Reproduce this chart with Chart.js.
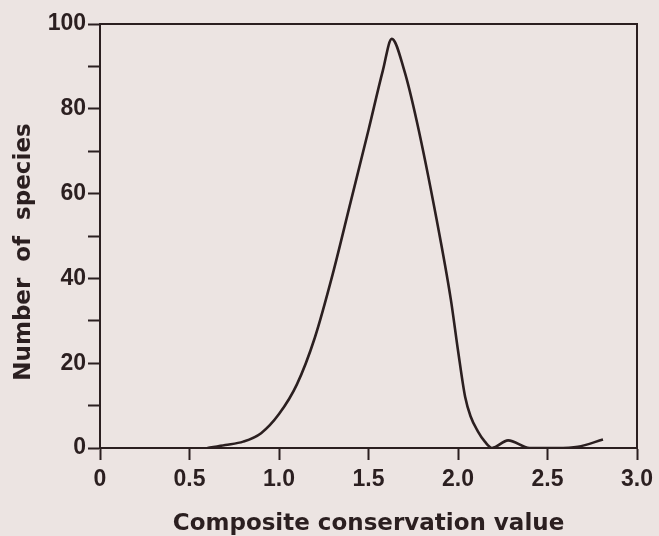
<!DOCTYPE html>
<html>
<head>
<meta charset="utf-8">
<script src="https://cdn.jsdelivr.net/npm/chart.js@4"></script>
<style>
  html, body { margin: 0; padding: 0; background: #ece4e2; }
  #wrap { width: 659px; height: 536px; }
</style>
</head>
<body>
<div id="wrap"><canvas id="c" width="659" height="536"></canvas></div>
<script>
// Data
const conservationValues = [0.60, 0.70, 0.80, 0.90, 1.00, 1.10, 1.20, 1.30, 1.40, 1.50, 1.58, 1.63, 1.70, 1.77, 1.88, 1.96, 2.00, 2.04, 2.07, 2.11, 2.15, 2.19, 2.28, 2.40, 2.55, 2.67, 2.81];
const speciesCounts     = [0,    0.7,  1.5,  3.5,  8,    15,   26,   41,   58,   75,   89,   96.5, 89,   77,   54,   35,   23,   12,   7.5,  4,    1.5,  0,    1.8,  0,    0,    0.3,  2];
const xTickValues = [0, 0.5, 1.0, 1.5, 2.0, 2.5, 3.0];
const yTickLabels = [0, 20, 40, 60, 80, 100];
const xAxisTitle = 'Composite conservation value';
const yAxisTitle = 'Number  of  species    ';

const ink = '#2b1f20';
const paper = '#ece4e2';

const points = conservationValues.map((x, i) => ({ x: x, y: speciesCounts[i] }));

const bgPlugin = {
  id: 'paperBg',
  beforeDraw(chart) {
    const ctx = chart.ctx;
    ctx.save();
    ctx.fillStyle = paper;
    ctx.fillRect(0, 0, chart.width, chart.height);
    ctx.restore();
  }
};

const tickFont = { family: '"Liberation Sans", Arial, sans-serif', size: 23, weight: 'bold' };
const titleFont = { family: '"DejaVu Sans", sans-serif', size: 23, weight: 'bold', lineHeight: 1 };

new Chart(document.getElementById('c'), {
  type: 'line',
  data: {
    datasets: [{
      data: points,
      borderColor: ink,
      borderWidth: 2.6,
      pointRadius: 0,
      fill: false,
      cubicInterpolationMode: 'monotone'
    }]
  },
  options: {
    responsive: false,
    animation: false,
    devicePixelRatio: 1,
    layout: { padding: { top: 24, right: 17, left: 0, bottom: 0 } },
    plugins: { legend: { display: false }, tooltip: { enabled: false } },
    scales: {
      x: {
        type: 'linear',
        position: 'bottom',
        min: 0, max: 3,
        afterBuildTicks(scale) { scale.ticks = xTickValues.map(v => ({ value: v })); },
        afterFit(scale) { scale.height = 88; },
        ticks: {
          color: ink, font: tickFont, padding: 6, maxRotation: 0, autoSkip: false,
          callback: v => (v === 0 ? '0' : v.toFixed(1))
        },
        grid: { drawOnChartArea: false, drawTicks: true, tickLength: 12, tickWidth: 2, color: ink },
        border: { display: true, color: ink, width: 2 },
        title: { display: true, text: xAxisTitle, color: ink, font: titleFont, padding: { top: 0, bottom: 0 } }
      },
      y: {
        type: 'linear',
        position: 'left',
        min: 0, max: 100,
        afterBuildTicks(scale) {
          const t = [];
          for (let v = 0; v <= 100; v += 10) t.push({ value: v });
          scale.ticks = t;
        },
        afterFit(scale) { scale.width = 100; },
        ticks: {
          color: ink, font: tickFont, padding: 2, autoSkip: false,
          callback: v => (yTickLabels.includes(v) ? String(v) : '')
        },
        grid: { drawOnChartArea: false, drawTicks: true, tickLength: 12, tickWidth: 2, color: ink },
        border: { display: true, color: ink, width: 2 },
        title: { display: true, text: yAxisTitle, color: ink, font: titleFont, padding: { top: 13, bottom: 0 } }
      },
      xTop: {
        type: 'linear', position: 'top', min: 0, max: 3,
        ticks: { display: false },
        grid: { drawOnChartArea: false, drawTicks: false },
        border: { display: true, color: ink, width: 2 },
        afterFit(scale) { scale.height = 0; }
      },
      yRight: {
        type: 'linear', position: 'right', min: 0, max: 100,
        ticks: { display: false },
        grid: { drawOnChartArea: false, drawTicks: false },
        border: { display: true, color: ink, width: 2 },
        afterFit(scale) { scale.width = 0; }
      }
    }
  },
  plugins: [bgPlugin]
});
</script>
</body>
</html>
